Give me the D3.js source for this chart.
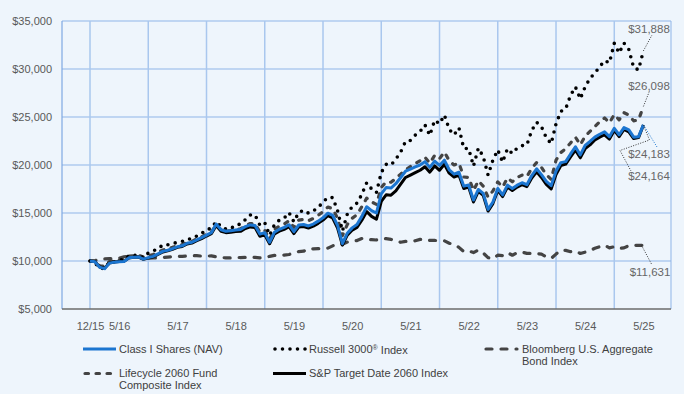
<!DOCTYPE html>
<html><head><meta charset="utf-8">
<script src="https://cdn.jsdelivr.net/npm/d3@7/dist/d3.min.js"></script>
<style>
html,body{margin:0;padding:0;background:#eef5fc;}
svg{display:block;font-family:"Liberation Sans",Arial,sans-serif;}
</style>
</head><body>
<svg id="chart" width="684" height="394"></svg>
<script>
// Month index: 0 = inception (Dec 2015), then month-ends; 114 = 5/25
const xTickIdx    = [0, 6, 18, 30, 42, 54, 66, 78, 90, 102, 114];
const xTickLabels = ["12/15","5/16","5/17","5/18","5/19","5/20","5/21","5/22","5/23","5/24","5/25"];
const yTicks = [5000,10000,15000,20000,25000,30000,35000];

const classI = [10000,9930,9350,9200,9780,9880,9930,9950,10330,10400,
10420,10200,10350,10480,10740,11000,11120,11280,11480,11580,
11850,11950,12200,12430,12700,12950,13850,13250,13100,13150,
13230,13280,13580,13760,13700,12800,12950,11950,13000,13300,
13500,13780,13050,13750,13800,13650,13850,14150,14500,14980,
14750,13700,11800,12900,13450,13800,14650,15650,15250,15000,
17000,17650,17600,18050,18700,19350,19580,19800,20000,20350,
19750,20400,19950,20500,19500,19050,19250,17800,17920,16350,
17450,17050,15380,16150,17550,16880,17900,17550,17900,18150,
17950,18900,19600,19000,18300,17850,19350,20250,20350,21150,
21900,21050,22050,22450,22900,23200,23450,22950,23820,23150,
23900,23650,22900,22950,24183];

const russell3000 = [10000,9800,9250,9220,9870,9930,10110,10140,10550,10580,
10600,10360,10830,11050,11260,11680,11690,11820,11940,12050,
12280,12310,12600,12880,13270,13400,14110,13590,13320,13370,
13750,13840,14300,14790,14810,13720,13990,12690,13780,14260,
14470,15050,14080,15060,15290,14980,15220,15560,16150,16620,
16600,15240,13130,14870,15670,16030,16940,18160,17510,17120,
19210,20070,19990,20610,21350,22460,22550,23110,23500,24180,
23090,24660,24290,25210,23720,23130,23870,21720,21720,19890,
21760,20890,18950,20500,21570,20300,21700,21200,21770,22010,
22100,23600,24450,23990,22840,22220,24290,25580,25860,27260,
28130,26890,28150,29020,29580,30230,30870,30650,32670,31660,
32700,32030,30140,29920,31888];

const bloombergAgg = [10000,10050,10130,10220,10250,10260,10300,10440,10460,10450,
10450,10430,10300,10320,10340,10360,10410,10440,10500,10480,
10510,10560,10550,10510,10500,10540,10440,10370,10320,10320,
10370,10360,10380,10420,10370,10330,10380,10480,10580,10580,
10620,10680,10840,10980,11020,11280,11270,11280,11300,11340,
11580,11800,11740,11970,12040,12130,12340,12230,12220,12190,
12310,12330,12250,12080,11950,12040,12020,12110,12250,12240,
12140,12140,12120,12100,11850,11720,11420,10980,11050,10880,
11150,10830,10350,10220,10610,10560,10880,10600,10870,10920,
10800,10790,10780,10710,10440,10270,10720,11130,11110,10970,
11050,10780,10920,11080,11330,11490,11650,11370,11490,11300,
11370,11600,11600,11640,11631];

const lifecycleComposite = [10000,9950,9500,9450,9950,10050,10100,10150,10500,10560,
10600,10400,10520,10680,10900,11150,11270,11420,11600,11700,
11960,12050,12300,12530,12800,13030,13750,13250,13110,13170,
13300,13350,13680,13900,13880,13000,13200,12250,13300,13620,
13850,14200,13500,14250,14330,14200,14430,14750,15150,15620,
15450,14450,12650,13800,14450,14820,15650,16550,16150,15900,
17650,18250,18200,18600,19050,19500,19850,20150,20450,20800,
20200,21000,20650,21350,20450,20000,20200,18750,18700,17350,
18350,17800,16650,17300,18250,17700,18650,18250,18700,18950,
18800,19650,20250,19750,19000,18500,20500,21300,21700,22300,
22900,22100,23000,23500,24000,24500,24900,24400,25250,24700,
25450,25200,24600,24700,26098];

const spTargetDate2060 = [10000,9940,9380,9250,9800,9900,9940,9960,10320,10380,
10400,10180,10300,10440,10680,10940,11060,11220,11420,11520,
11780,11870,12110,12330,12600,12840,13700,13100,12950,12990,
13060,13090,13390,13550,13490,12580,12740,11800,12820,13110,
13300,13580,12850,13540,13590,13440,13630,13920,14260,14730,
14480,13430,11650,12700,13200,13500,14250,15150,14650,14350,
16200,16900,16850,17300,18000,18700,18950,19200,19450,19820,
19250,19900,19450,20080,19150,18750,18950,17550,17700,16150,
17250,16850,15200,15980,17350,16700,17700,17350,17700,17950,
17750,18650,19300,18700,17980,17500,19000,19950,20100,20850,
21550,20750,21700,22100,22600,22900,23150,22700,23600,22950,
23700,23450,22750,22850,24164];

const seriesNames = ["Class I Shares (NAV)","Russell 3000\u00AE Index","Bloomberg U.S. Aggregate Bond Index","Lifecycle 2060 Fund Composite Index","S&P Target Date 2060 Index"];
const endLabels = ["$24,183","$31,888","$11,631","$26,098","$24,164"];

const svg = d3.select("#chart");
const W = 684, H = 394;
const plot = {left: 62, right: 671, top: 21, bottom: 309};

const x = d3.scaleLinear().domain([0, 114]).range([90, 643.4]);
const y = d3.scaleLinear().domain([5000, 35000]).range([plot.bottom, plot.top]);

svg.append("rect").attr("width", W).attr("height", H).attr("fill", "#eef5fc");

// horizontal grid
svg.append("g").selectAll("line").data(yTicks.slice(1)).join("line")
  .attr("x1", plot.left).attr("x2", plot.right)
  .attr("y1", d => y(d)).attr("y2", d => y(d))
  .attr("stroke", "#8fb5e8").attr("stroke-width", 1);

// vertical grid (yearly)
const vGrid = d3.range(0, 120, 12);
svg.append("g").selectAll("line").data(vGrid).join("line")
  .attr("x1", d => x(d)).attr("x2", d => x(d))
  .attr("y1", plot.top).attr("y2", plot.bottom)
  .attr("stroke", "#a9c7ee").attr("stroke-width", 1.5);

// right border & left axis
svg.append("line").attr("x1", plot.right).attr("x2", plot.right).attr("y1", plot.top).attr("y2", plot.bottom)
  .attr("stroke", "#8fb5e8").attr("stroke-width", 1);
svg.append("line").attr("x1", plot.left).attr("x2", plot.left).attr("y1", plot.top).attr("y2", plot.bottom)
  .attr("stroke", "#7fa8e2").attr("stroke-width", 1.2);

// y axis labels
const yAxis = d3.axisLeft(y).tickValues(yTicks).tickSize(0).tickPadding(10)
  .tickFormat(d => "$" + d3.format(",")(d));
const gy = svg.append("g").attr("transform", `translate(${plot.left},0)`).call(yAxis);
gy.select(".domain").remove();
gy.selectAll("text").attr("fill", "#595959").attr("font-size", "11px")
  .attr("font-family", "'Liberation Sans',Arial,sans-serif");

// x axis
const xAxis = d3.axisBottom(x).tickValues(xTickIdx).tickSize(0).tickPadding(13)
  .tickFormat((d, i) => xTickLabels[i]);
const gx = svg.append("g").attr("transform", `translate(0,${plot.bottom})`).call(xAxis);
gx.select(".domain").remove();
gx.selectAll("text").attr("fill", "#595959").attr("font-size", "11px")
  .attr("font-family", "'Liberation Sans',Arial,sans-serif");
svg.append("line").attr("x1", plot.left).attr("x2", plot.right).attr("y1", plot.bottom).attr("y2", plot.bottom)
  .attr("stroke", "#6b6b6b").attr("stroke-width", 1.5);

const line = d3.line().x((d, i) => x(i)).y(d => y(d));

const styles = {
  bloom: {stroke: "#444", width: 3.2, dash: "6 9", cap: "round"},
  life:  {stroke: "#444", width: 3.2, dash: "3.5 7.5", cap: "round"},
  russ:  {stroke: "#000", width: 3.6, dash: "0 7.5", cap: "round"},
  sp:    {stroke: "#000", width: 3, dash: null, cap: "butt"},
  cls:   {stroke: "#1b75d0", width: 3, dash: null, cap: "butt"}
};
function drawSeries(data, st) {
  svg.append("path").datum(data).attr("d", line)
    .attr("fill", "none").attr("stroke", st.stroke).attr("stroke-width", st.width)
    .attr("stroke-linecap", st.cap).attr("stroke-linejoin", "round")
    .attr("stroke-dasharray", st.dash);
}
drawSeries(bloombergAgg, styles.bloom);
drawSeries(lifecycleComposite, styles.life);
drawSeries(russell3000, styles.russ);
drawSeries(spTargetDate2060, styles.sp);
drawSeries(classI, styles.cls);

// end labels with leader lines
const lastI = 114;
function leader(points, color) {
  svg.append("path").attr("d", d3.line()(points)).attr("fill", "none")
    .attr("stroke", color).attr("stroke-width", 1).attr("stroke-dasharray", "1 1.5");
}
function endText(txt, cx, cy) {
  svg.append("text").attr("x", cx).attr("y", cy).attr("text-anchor", "middle")
    .attr("dominant-baseline", "central").attr("fill", "#666").attr("font-size", "11.5px").text(txt);
}
const ex = x(lastI);
leader([[ex, y(russell3000[lastI])], [652, 35]], "#333");
endText(endLabels[1], 649, 29);
leader([[ex, y(lifecycleComposite[lastI])], [649.5, 91]], "#333");
endText(endLabels[3], 649, 86);
leader([[ex, y(classI[lastI])], [657, 147]], "#1b75d0");
endText(endLabels[0], 649, 154);
leader([[ex, y(spTargetDate2060[lastI])], [649.5, 140], [620, 150.5], [631, 171]], "#333");
endText(endLabels[4], 649, 176);
leader([[641.5, y(bloombergAgg[lastI - 1])], [652, 265]], "#333");
endText(endLabels[2], 650, 271.5);

// legend
const legend = [
  {name: seriesNames[0], st: styles.cls,   lx: 83,  ty: 349},
  {name: seriesNames[1], st: styles.russ,  lx: 273, ty: 349},
  {name: seriesNames[2], st: styles.bloom, lx: 484, ty: 349},
  {name: seriesNames[3], st: styles.life,  lx: 83,  ty: 373.5},
  {name: seriesNames[4], st: styles.sp,    lx: 273, ty: 373.5}
];
const wrap = {
  "Bloomberg U.S. Aggregate Bond Index": ["Bloomberg U.S. Aggregate", "Bond Index"],
  "Lifecycle 2060 Fund Composite Index": ["Lifecycle 2060 Fund", "Composite Index"]
};
legend.forEach(l => {
  const len = 33;
  svg.append("line").attr("x1", l.lx + (l.st.dash ? 2 : 0)).attr("x2", l.lx + len)
    .attr("y1", l.ty).attr("y2", l.ty)
    .attr("stroke", l.st.stroke).attr("stroke-width", l.st.width)
    .attr("stroke-linecap", l.st.cap).attr("stroke-dasharray", l.st.dash);
  const lines = wrap[l.name] || [l.name];
  const t = svg.append("text").attr("x", l.lx + len + 3).attr("y", l.ty)
    .attr("fill", "#404040").attr("font-size", "11px");
  lines.forEach((s, k) => {
    const ts = t.append("tspan").attr("x", l.lx + len + (l.st === styles.bloom ? 5 : 3))
      .attr("dy", k === 0 ? "0.35em" : "1.1em");
    if (s.includes("\u00AE")) {
      const parts = s.split("\u00AE");
      ts.text(parts[0]);
      t.append("tspan").attr("font-size", "7px").attr("dy", "-0.35em").text("\u00AE");
      t.append("tspan").attr("dy", "0.35em").text(parts[1]);
    } else ts.text(s);
  });
});
</script>
</body></html>
